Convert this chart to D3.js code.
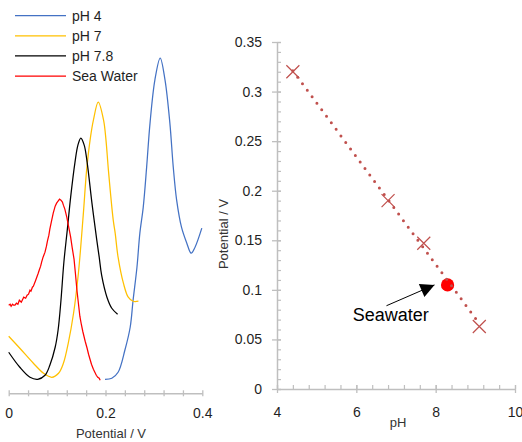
<!DOCTYPE html>
<html>
<head>
<meta charset="utf-8">
<script src="https://cdn.jsdelivr.net/npm/d3@7"></script>
<style>
  body { margin: 0; background: #fff; }
  svg { display: block; font-family: "Liberation Sans", Arial, sans-serif; }
</style>
</head>
<body>
<svg id="drawing_region"></svg>
<script>
// ---- left panel: voltammograms (potential V, current in arbitrary units) ----
const ph4V  = [0.199,0.213,0.226,0.240,0.251,0.257,0.265,0.271,0.278,0.285,0.292,0.302,0.313,0.323,0.333,0.340,0.347,0.357,0.368,0.377,0.385,0.399];
const ph4I  = [1.4,1.5,2.1,4.3,6.6,9.3,12.6,16.0,18.6,22.6,27.0,31.3,33.5,31.3,27.0,22.6,19.3,16.6,15.0,14.0,14.6,16.5];

const ph7V  = [0,0.023,0.051,0.072,0.089,0.103,0.113,0.123,0.134,0.144,0.154,0.161,0.169,0.175,0.185,0.196,0.201,0.206,0.216,0.220,0.226,0.237,0.247,0.257,0.268];
const ph7I  = [5.7,4.5,3.0,2.0,1.6,2.0,3.0,5.0,8.0,12.0,17.8,22.3,25.6,27.3,29.1,27.3,25.3,22.3,17.3,16.0,13.6,11.0,9.6,9.2,9.2];

const ph78V = [0,0.023,0.044,0.060,0.075,0.085,0.096,0.102,0.108,0.114,0.121,0.128,0.137,0.143,0.149,0.156,0.162,0.172,0.182,0.187,0.192,0.203,0.213,0.225];
const ph78I = [4.1,2.6,1.6,1.4,1.8,2.8,4.6,6.3,9.3,13.1,16.3,19.6,23.1,24.8,25.5,24.8,23.1,19.0,15.3,13.6,11.8,9.6,8.5,7.9];

const seaV  = [0,0.003,0.005,0.008,0.010,0.013,0.016,0.019,0.022,0.026,0.029,0.031,0.035,0.038,0.041,0.044,0.046,0.049,0.051,0.055,0.058,0.061,0.063,0.066,0.068,0.071,0.075,0.078,0.080,0.083,0.085,0.088,0.092,0.096,0.099,0.102,0.105,0.108,0.111,0.113,0.116,0.120,0.124,0.128,0.131,0.135,0.138,0.141,0.144,0.147,0.150,0.153,0.158,0.162,0.165,0.168,0.171,0.175,0.178,0.181,0.184,0.187,0.189];
const seaI  = [8.8,8.9,8.7,8.9,8.8,8.8,9.0,8.9,9.3,9.1,9.4,9.6,9.5,9.8,9.9,10.3,10.2,10.6,10.7,11.2,11.6,12.0,12.3,12.7,13.1,13.6,14.1,14.7,15.2,15.8,16.4,17.1,18.0,18.7,19.0,19.2,19.4,19.3,19.1,18.8,18.4,17.6,16.6,15.6,14.6,13.4,11.9,10.3,9.0,7.7,6.9,6.2,5.2,4.5,3.9,3.4,2.9,2.4,2.1,1.8,1.6,1.5,1.3];

const seriesNames  = ["pH 4", "pH 7", "pH 7.8", "Sea Water"];
const seriesColors = ["#4472c4", "#ffc000", "#000000", "#ff0000"];
const potentialTicks = [0, 0.2, 0.4];

// ---- right panel: calibration ----
const calibPH  = [4.4, 6.8, 7.7, 9.1];
const calibPot = [0.32, 0.19, 0.147, 0.063];
const seawaterPH  = 8.3;
const seawaterPot = 0.105;
const pHTicks  = [4, 6, 8, 10];
const potTicks = [0, 0.05, 0.1, 0.15, 0.2, 0.25, 0.3, 0.35];

const config = { width: 522, height: 442 };
const svg = d3.select('#drawing_region')
    .attr('width', config.width)
    .attr('height', config.height);

const axisColor = '#bfbfbf';
const textColor = '#1f1f1f';

// ================= left panel =================
const xL = d3.scaleLinear().domain([0, 0.4]).range([8.7, 202.3]);
const yL = d3.scaleLinear().domain([0, 35]).range([393.3, 43]);

const left = svg.append('g');

const xAxisL = d3.axisBottom(xL)
    .tickValues(d3.range(0, 11).map(i => i * 0.04))
    .tickSizeOuter(0)
    .tickSizeInner(3)
    .tickPadding(12)
    .tickFormat(d => potentialTicks.some(t => Math.abs(t - d) < 1e-9) ? (+d.toFixed(2)).toString() : '');

const gxL = left.append('g')
    .attr('transform', `translate(0, ${yL(0)})`)
    .call(xAxisL);
gxL.select('.domain').attr('stroke', axisColor).attr('stroke-width', 1.5);
gxL.selectAll('.tick line').attr('stroke', axisColor).attr('stroke-width', 1.3).attr('y1', -3).attr('y2', 3);
gxL.selectAll('.tick text').attr('fill', textColor).attr('font-size', 14)
    .attr('font-family', '"Liberation Sans", Arial, sans-serif');

left.append('text')
    .attr('x', 111)
    .attr('y', 438)
    .attr('text-anchor', 'middle')
    .attr('font-size', 13)
    .attr('fill', '#333')
    .text('Potential / V');

const line = d3.line().x(d => xL(d[0])).y(d => yL(d[1]));
const smooth = d3.curveCatmullRom.alpha(0.5);
const seriesData = [
    { v: ph4V,  i: ph4I,  curve: smooth },
    { v: ph7V,  i: ph7I,  curve: smooth },
    { v: ph78V, i: ph78I, curve: smooth },
    { v: seaV,  i: seaI,  curve: d3.curveLinear }
];

seriesData.forEach((s, k) => {
    left.append('path')
        .datum(s.v.map((v, j) => [v, s.i[j]]))
        .attr('fill', 'none')
        .attr('stroke', seriesColors[k])
        .attr('stroke-width', 1.25)
        .attr('d', line.curve(s.curve));
});

// legend
const legend = left.append('g');
seriesNames.forEach((name, k) => {
    const ly = 15.7 + k * 20.1;
    legend.append('line')
        .attr('x1', 15).attr('x2', 66)
        .attr('y1', ly).attr('y2', ly)
        .attr('stroke', seriesColors[k])
        .attr('stroke-width', 1.25);
    legend.append('text')
        .attr('x', 72)
        .attr('y', ly + 5)
        .attr('font-size', 14)
        .attr('fill', textColor)
        .text(name);
});

// ================= right panel =================
const xR = d3.scaleLinear().domain([4, 10]).range([277, 515]);
const yR = d3.scaleLinear().domain([0, 0.35]).range([389, 42]);

const right = svg.append('g');

// minor ticks (inside)
const yMinor = d3.axisLeft(yR).tickValues(d3.range(0, 36).map(i => i / 100))
    .tickSizeInner(-4).tickSizeOuter(0).tickFormat('');
const xMinor = d3.axisBottom(xR).tickValues(d3.range(0, 16).map(i => 4 + i * 0.4))
    .tickSizeInner(-4).tickSizeOuter(0).tickFormat('');

const gyMinor = right.append('g').attr('transform', `translate(${xR(4)},0)`).call(yMinor);
const gxMinor = right.append('g').attr('transform', `translate(0,${yR(0)})`).call(xMinor);
[gyMinor, gxMinor].forEach(g => {
    g.select('.domain').remove();
    g.selectAll('.tick line').attr('stroke', axisColor).attr('stroke-width', 1.2);
});

const yAxisR = d3.axisLeft(yR).tickValues(potTicks)
    .tickSizeInner(5).tickSizeOuter(0).tickPadding(10)
    .tickFormat(d => (+d.toFixed(2)).toString());
const xAxisR = d3.axisBottom(xR).tickValues(pHTicks)
    .tickSizeInner(5).tickSizeOuter(0).tickPadding(13)
    .tickFormat(d => d.toString());

const gyR = right.append('g').attr('transform', `translate(${xR(4)},0)`).call(yAxisR);
const gxR = right.append('g').attr('transform', `translate(0,${yR(0)})`).call(xAxisR);
gyR.selectAll('.tick line').attr('x2', -5).attr('x1', 4);
gxR.selectAll('.tick line').attr('y2', 4).attr('y1', -4);
[gyR, gxR].forEach(g => {
    g.select('.domain').attr('stroke', axisColor).attr('stroke-width', 1.5);
    g.selectAll('.tick line').attr('stroke', axisColor).attr('stroke-width', 1.3);
    g.selectAll('.tick text').attr('fill', textColor).attr('font-size', 14)
        .attr('font-family', '"Liberation Sans", Arial, sans-serif');
});

right.append('text')
    .attr('x', 398)
    .attr('y', 427)
    .attr('text-anchor', 'middle')
    .attr('font-size', 13)
    .attr('fill', '#333')
    .text('pH');

right.append('text')
    .attr('transform', 'translate(228, 234) rotate(-90)')
    .attr('text-anchor', 'middle')
    .attr('font-size', 13)
    .attr('fill', '#333')
    .text('Potential / V');

// seawater point
right.append('circle')
    .attr('cx', xR(seawaterPH))
    .attr('cy', yR(seawaterPot))
    .attr('r', 6.6)
    .attr('fill', '#ff0000');

// linear trendline through calibration points
const mx = d3.mean(calibPH), my = d3.mean(calibPot);
const slope = d3.sum(calibPH, (x, j) => (x - mx) * (calibPot[j] - my)) / d3.sum(calibPH, x => (x - mx) ** 2);
const icpt = my - slope * mx;
const [xa, xb] = d3.extent(calibPH);
right.append('line')
    .attr('x1', xR(xa)).attr('y1', yR(icpt + slope * xa))
    .attr('x2', xR(xb)).attr('y2', yR(icpt + slope * xb))
    .attr('stroke', '#c0504d')
    .attr('stroke-width', 3)
    .attr('stroke-linecap', 'round')
    .attr('stroke-dasharray', '0 8.1');

// X markers
const s = 6.5;
right.selectAll('path.mark')
    .data(calibPH.map((x, j) => [x, calibPot[j]]))
    .enter()
    .append('path')
    .attr('class', 'mark')
    .attr('d', d => {
        const cx = xR(d[0]), cy = yR(d[1]);
        return `M${cx - s},${cy - s}L${cx + s},${cy + s}M${cx - s},${cy + s}L${cx + s},${cy - s}`;
    })
    .attr('stroke', '#c0504d')
    .attr('stroke-width', 1.2)
    .attr('fill', 'none');

// annotation
const arrowTail = [6.76, 0.084];
const arrowTip  = [7.97, 0.105];
const labelPos  = [5.91, 0.0685];

svg.append('defs').append('marker')
    .attr('id', 'arrowhead')
    .attr('viewBox', '0 0 10 10')
    .attr('refX', 10).attr('refY', 5)
    .attr('markerUnits', 'userSpaceOnUse')
    .attr('markerWidth', 16).attr('markerHeight', 14)
    .attr('orient', 'auto')
    .append('path')
    .attr('d', 'M0,0L10,5L0,10Z')
    .attr('fill', '#000');

right.append('line')
    .attr('x1', xR(arrowTail[0])).attr('y1', yR(arrowTail[1]))
    .attr('x2', xR(arrowTip[0])).attr('y2', yR(arrowTip[1]))
    .attr('stroke', '#000')
    .attr('stroke-width', 1)
    .attr('marker-end', 'url(#arrowhead)');

right.append('text')
    .attr('x', xR(labelPos[0]))
    .attr('y', yR(labelPos[1]))
    .attr('font-size', 18)
    .attr('fill', '#000')
    .text('Seawater');
</script>
</body>
</html>
